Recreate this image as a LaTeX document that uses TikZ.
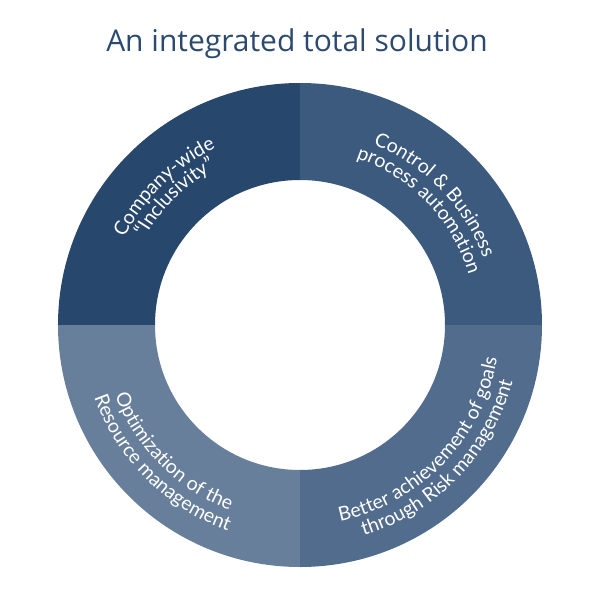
\documentclass[tikz,border=0pt]{standalone}
\usepackage{fontspec}
\setmainfont{Open Sans}
\newfontfamily\lblfont{Lato}
\usetikzlibrary{decorations.text}
\definecolor{titlec}{HTML}{2C4A6E}
\definecolor{qtl}{HTML}{27476D}
\definecolor{qtr}{HTML}{3B5A7E}
\definecolor{qbr}{HTML}{526C8D}
\definecolor{qbl}{HTML}{687F9B}
\tikzset{
  arclabel/.style={decorate, decoration={text along path, text align=center, text color=white, text={#1}}},
}
\newcommand{\lf}{\lblfont\fontsize{19.5}{19.5}\selectfont}
\begin{document}
\begin{tikzpicture}[x=1pt,y=1pt]
\useasboundingbox (-300,-275) rectangle (300,325);
\def\Ro{242}
\def\Ri{145}
% sectors
\fill[qtl] (180:\Ro) arc[start angle=180,end angle=90,radius=\Ro] -- (90:\Ri) arc[start angle=90,end angle=180,radius=\Ri] -- cycle;
\fill[qtr] (90:\Ro) arc[start angle=90,end angle=0,radius=\Ro] -- (0:\Ri) arc[start angle=0,end angle=90,radius=\Ri] -- cycle;
\fill[qbr] (0:\Ro) arc[start angle=0,end angle=-90,radius=\Ro] -- (-90:\Ri) arc[start angle=-90,end angle=0,radius=\Ri] -- cycle;
\fill[qbl] (-90:\Ro) arc[start angle=-90,end angle=-180,radius=\Ro] -- (-180:\Ri) arc[start angle=-180,end angle=-90,radius=\Ri] -- cycle;
% title
\node[anchor=base, text=titlec, font=\fontsize{30}{35}\selectfont, inner sep=0pt] (title) at (-3,273) {An integrated total solution};
% labels
\path[arclabel={|\lf|Company-wide}] (175:196) arc[start angle=175,end angle=94,radius=196];
\path[arclabel={|\lf|“Inclusivity”}] (175:178) arc[start angle=175,end angle=94,radius=178];
\path[arclabel={|\lf|Control {\&} Business}] (86:195) arc[start angle=86,end angle=2,radius=195];
\path[arclabel={|\lf|process automation}] (86:176) arc[start angle=86,end angle=2,radius=176];
\path[arclabel={|\lf|Better achievement of goals}] (-90:200) arc[start angle=-90,end angle=2,radius=200];
\path[arclabel={|\lf|through Risk management}] (-90:220) arc[start angle=-90,end angle=2,radius=220];
\path[arclabel={|\lf|Optimization of the}] (-178:198) arc[start angle=-178,end angle=-92,radius=198];
\path[arclabel={|\lf|Resource management}] (-178:218) arc[start angle=-178,end angle=-92,radius=218];
\end{tikzpicture}
\end{document}
